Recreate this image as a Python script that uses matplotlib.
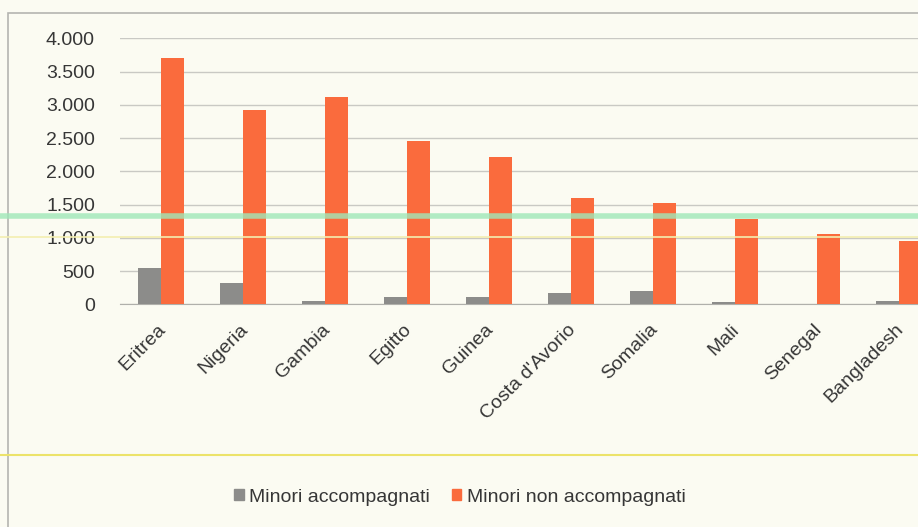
import numpy as np
import matplotlib
matplotlib.use("Agg")
import matplotlib.pyplot as plt
import matplotlib.transforms as mtransforms
from matplotlib.lines import Line2D
from matplotlib.patches import Rectangle

plt.rcParams["font.family"] = ["Liberation Sans", "DejaVu Sans"]

paesi = ["Eritrea", "Nigeria", "Gambia", "Egitto", "Guinea", "Costa d'Avorio",
         "Somalia", "Mali", "Senegal", "Bangladesh"]
accompagnati = [550, 320, 50, 115, 110, 165, 205, 30, 10, 55]
non_accompagnati = [3700, 2920, 3110, 2455, 2220, 1595, 1520, 1285, 1055, 950]
yticks = [0, 500, 1000, 1500, 2000, 2500, 3000, 3500, 4000]
ytick_labels = ["0", "500", "1.000", "1.500", "2.000", "2.500", "3.000", "3.500", "4.000"]

W, H = 918, 527
bg = "#fbfbf2"
grigio = "#8c8c8a"
arancio = "#fa6b3d"
testo = "#363636"
fig = plt.figure(figsize=(W / 100, H / 100), dpi=100, facecolor=bg)

# cornice del grafico (tagliata dalla scansione)
fig.add_artist(Rectangle((8 / W, -0.1), 1.2, 1 - 13 / H + 0.1, transform=fig.transFigure,
                         fill=False, edgecolor="#b5b5b0", lw=1.2))

ax = fig.add_axes([120 / W, 1 - 304.3 / H, 820 / W, (304.3 - 38.3) / H])
ax.set_facecolor("none")

x = np.arange(len(paesi))
w = 0.285
ax.bar(x - w / 2, accompagnati, width=w, color=grigio, zorder=3)
ax.bar(x + w / 2, non_accompagnati, width=w, color=arancio, zorder=3)

ax.set_xlim(-0.5, len(paesi) - 0.5)
ax.set_ylim(0, 4000)
ax.set_yticks(yticks)
ax.set_yticklabels(ytick_labels, fontsize=14, color=testo)
ax.yaxis.grid(True, color="#c9c9c4", lw=1)
ax.set_axisbelow(True)
ax.tick_params(axis="y", length=0, pad=18)
ax.tick_params(axis="x", length=0, pad=12)
ax.set_xticks(x)
ax.set_xticklabels(paesi, rotation=45, ha="right", va="top", rotation_mode="anchor",
                   fontsize=14, color=testo)
shift = mtransforms.ScaledTranslation(-4 / 100, 0, fig.dpi_scale_trans)
for lab in ax.get_xticklabels():
    lab.set_transform(lab.get_transform() + shift)
for s in ["top", "right", "left"]:
    ax.spines[s].set_visible(False)
ax.spines["bottom"].set_color("#b0b0ab")

# artefatti della scansione
fig.add_artist(Line2D([0, 1], [1 - 216 / H] * 2, transform=fig.transFigure,
                      color="#9fe8b8", lw=4, alpha=0.8, zorder=5))
fig.add_artist(Line2D([0, 1], [1 - 237 / H] * 2, transform=fig.transFigure,
                      color="#f3eeb0", lw=1.2, zorder=5))
fig.add_artist(Line2D([0, 1], [1 - 455 / H] * 2, transform=fig.transFigure,
                      color="#ece36a", lw=1.5, zorder=5))

handles = [Rectangle((0, 0), 1, 1, color=grigio), Rectangle((0, 0), 1, 1, color=arancio)]
fig.legend(handles, ["Minori accompagnati", "Minori non accompagnati"],
           loc="center", bbox_to_anchor=(460 / W, 1 - 497 / H), ncol=2, frameon=False,
           fontsize=14, handlelength=0.5, handleheight=0.5, handletextpad=0.3,
           columnspacing=1.1, labelcolor=testo)

fig.savefig("out.png", dpi=100, facecolor=bg)
